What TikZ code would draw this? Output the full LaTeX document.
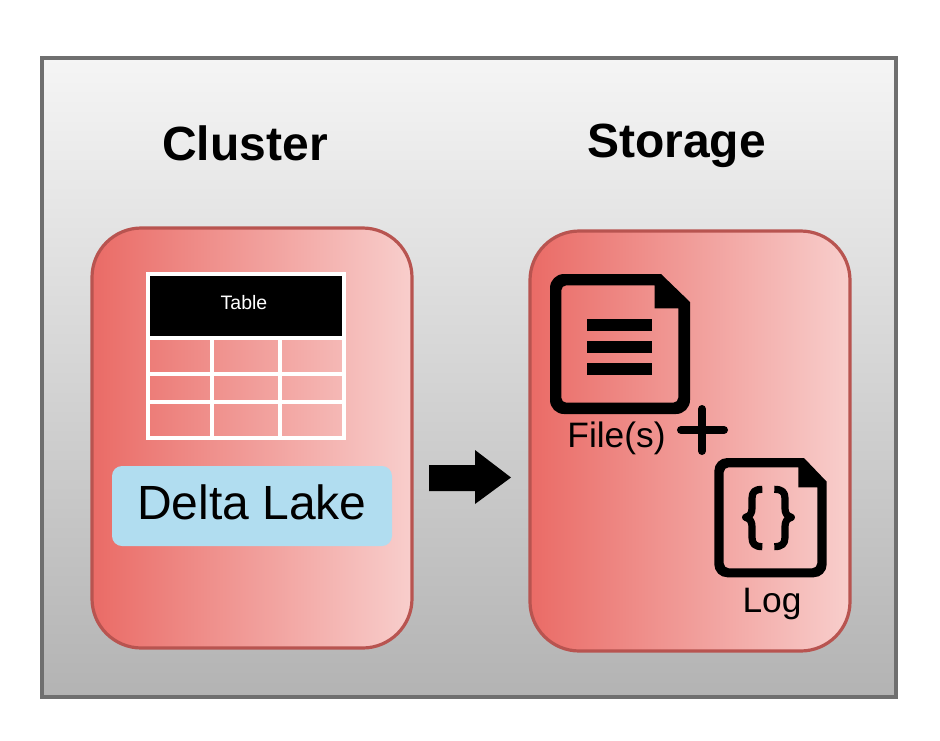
\documentclass[tikz,border=0pt]{standalone}
\usepackage{fontspec}
\setmainfont{Liberation Sans}
\definecolor{redl}{HTML}{EA6B66}
\definecolor{redr}{HTML}{F8CECC}
\definecolor{redb}{HTML}{B85450}
\definecolor{outerb}{HTML}{6F6F6F}
\definecolor{lake}{HTML}{B1DDF0}
\definecolor{gtop}{HTML}{F5F5F5}
\definecolor{gbot}{HTML}{B3B3B3}
\newcommand{\fsz}[1]{\fontsize{#1}{#1}\selectfont}
\tikzset{
  panel/.style={draw=redb,line width=2.4pt,rounded corners=37pt,left color=redl,right color=redr,
    minimum width=240pt,minimum height=315pt,inner sep=0pt,outer sep=0pt},
  title/.style={anchor=base,font=\fsz{36}\bfseries,inner sep=0pt},
  caption/.style={anchor=base,font=\fsz{26.5},inner sep=0pt},
  gridline/.style={draw=white,line width=3pt},
  bracepath/.style={draw=black,line width=5.4pt,line join=round},
  plusline/.style={draw=black,line width=6pt,line cap=round},
}
\begin{document}
\begin{tikzpicture}[x=0.75pt,y=-0.75pt]
\useasboundingbox (0,0) rectangle (940,740);
\node[draw=outerb,line width=2.8pt,top color=gtop,bottom color=gbot,minimum width=640.5pt,minimum height=479pt,inner sep=0pt,outer sep=0pt] (frame) at (469,377.5) {};
\node[title] (cluster) at (245,160) {Cluster};
\node[title] (storage) at (676.5,157) {Storage};
\node[panel] (clusterbox) at (252,438) {};
\node[panel] (storagebox) at (690,441) {};
% table
\fill[black] (150,276) rectangle (342,336);
\node[anchor=base,font=\fsz{14.6},text=white,inner sep=0pt] (tablelabel) at (244,309.5) {Table};
\draw[gridline] (148,274) rectangle (344,438);
\draw[gridline] (148,338) -- (344,338);
\draw[gridline] (148,374) -- (344,374);
\draw[gridline] (148,402) -- (344,402);
\draw[gridline] (212,338) -- (212,438);
\draw[gridline] (280,338) -- (280,438);
% delta lake
\node[fill=lake,rounded corners=7.5pt,minimum width=210pt,minimum height=60pt,inner sep=0pt,outer sep=0pt] (lakebox) at (252,506) {};
\node[anchor=base,font=\fsz{36},inner sep=0pt] (lakelabel) at (252,519.5) {Delta Lake};
% arrow
\fill[black] (429,465) -- (475,465) -- (475,450) -- (511,477.5) -- (475,504) -- (475,491) -- (429,491) -- cycle;
% file icon
\fill[black,even odd rule]
  (564,274) -- (661,274) -- (690,302) -- (690,400) arc[start angle=0,end angle=90,radius=14] -- (564,414) arc[start angle=90,end angle=180,radius=14] -- (550,288) arc[start angle=180,end angle=270,radius=14] -- cycle
  (566,285.3) -- (654.7,285.3) -- (654.7,308.3) -- (678.3,308.3) -- (678.3,397.7) arc[start angle=0,end angle=90,radius=5] -- (566.3,402.7) arc[start angle=90,end angle=180,radius=5] -- (561.3,290.3) arc[start angle=180,end angle=270,radius=5] -- cycle;
\fill[black] (586.7,318.7) rectangle (651.7,330.7);
\fill[black] (586.7,341) rectangle (651.7,352.7);
\fill[black] (586.7,363) rectangle (651.7,374.7);
\node[caption] (filelabel) at (616.5,447) {File(s)};
% plus
\draw[plusline] (681,430) -- (724,430);
\draw[plusline] (702,409) -- (702,451);
% log icon
\fill[black,even odd rule]
  (727.3,458) -- (804,458) -- (826.7,481.7) -- (826.7,564.3) arc[start angle=0,end angle=90,radius=13] -- (727.3,577.3) arc[start angle=90,end angle=180,radius=13] -- (714.3,471) arc[start angle=180,end angle=270,radius=13] -- cycle
  (728.7,467.3) -- (798.3,467.3) -- (798.3,487.3) -- (817.3,487.3) -- (817.3,563.3) arc[start angle=0,end angle=90,radius=5] -- (728.7,568.3) arc[start angle=90,end angle=180,radius=5] -- (723.7,472.3) arc[start angle=180,end angle=270,radius=5] -- cycle;
\begin{scope}[shift={(530,260)},x=0.25pt,y=-0.25pt]
\draw[bracepath] (697,688) .. controls (675,688) and (666,695) .. (666,715) -- (666,745) .. controls (666,760) and (660,768) .. (647,772) .. controls (660,776) and (666,784) .. (666,800) -- (666,832) .. controls (666,852) and (675,860) .. (697,860);
\draw[bracepath] (733,688) .. controls (755,688) and (765,695) .. (765,715) -- (765,745) .. controls (765,760) and (771,768) .. (784,772) .. controls (771,776) and (765,784) .. (765,800) -- (765,832) .. controls (765,852) and (755,860) .. (733,860);
\end{scope}
\node[caption] (loglabel) at (772,612) {Log};
\end{tikzpicture}
\end{document}
